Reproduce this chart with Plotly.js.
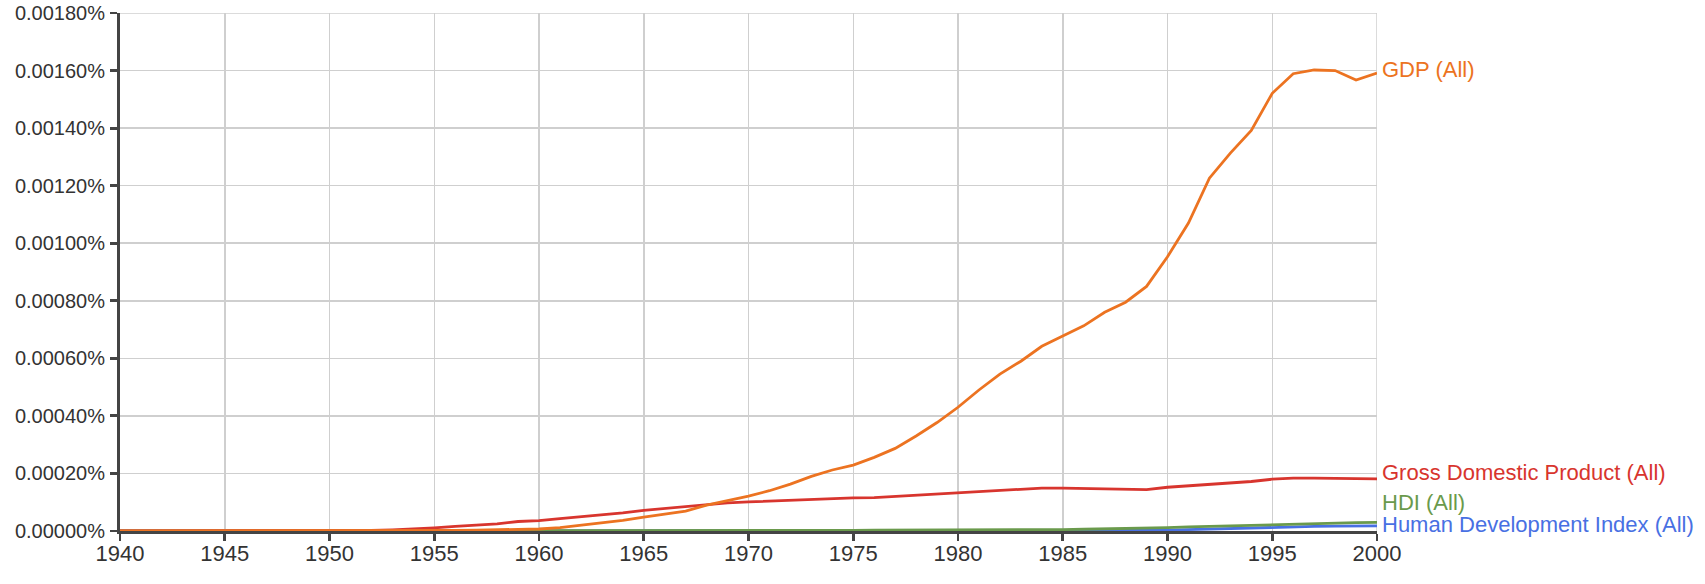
<!DOCTYPE html>
<html>
<head>
<meta charset="utf-8">
<script src="https://cdn.plot.ly/plotly-3.0.1.min.js"></script>
<style>
  html, body { margin: 0; padding: 0; background: #fff; }
  #chart { width: 1705px; height: 584px; }
</style>
</head>
<body>
<div id="chart"></div>
<script>
// ---- data ----
const years = [];
for (let y = 1940; y <= 2000; y++) years.push(y);

const seriesNames = ["GDP (All)", "Gross Domestic Product (All)", "HDI (All)", "Human Development Index (All)"];

// GDP (All), percent
const gdp = [
  0, 0, 0, 0, 0, 0, 0, 0, 0, 0,                         // 1940-1949
  0, 0, 0, 0.000001, 0.000001, 0.000002, 0.000002, 0.000003, 0.000004, 0.000005, // 1950-1959
  0.000007, 0.000012, 0.00002, 0.000028, 0.000037, 0.000048, 0.000058, 0.000069, 0.00009, 0.000105, // 1960-1969
  0.000121, 0.00014, 0.000163, 0.00019, 0.000212, 0.000229, 0.000256, 0.000287, 0.00033, 0.000377, // 1970-1979
  0.00043, 0.00049, 0.000545, 0.00059, 0.000642, 0.000678, 0.000713, 0.00076, 0.000795, 0.00085, // 1980-1989
  0.000953, 0.00107, 0.001226, 0.001313, 0.001392, 0.001521, 0.001589, 0.001602, 0.0016, 0.001567, // 1990-1999
  0.001591 // 2000
];

// Gross Domestic Product (All), percent
const grossDomesticProduct = [
  0, 0, 0, 0, 0, 0, 0, 0, 0, 0,
  0, 0.000001, 0.000002, 0.000004, 0.000007, 0.000011, 0.000016, 0.00002, 0.000025, 0.000033,
  0.000036, 0.000043, 0.000049, 0.000055, 0.000063, 0.000072, 0.000078, 0.000084, 0.000092, 0.000098,
  0.000101, 0.000104, 0.000106, 0.000109, 0.000113, 0.000115, 0.000116, 0.00012, 0.000126, 0.00013,
  0.000133, 0.000137, 0.000142, 0.000145, 0.000149, 0.000149, 0.000148, 0.000148, 0.000145, 0.000144,
  0.000152, 0.000157, 0.000163, 0.000166, 0.000172, 0.00018, 0.000184, 0.000184, 0.000182, 0.000182,
  0.000181
];

// HDI (All), percent
const hdi = [
  0, 0, 0, 0, 0, 0, 0, 0, 0, 0,
  0, 0, 0, 0, 0.000001, 0.000001, 0.000002, 0.000002, 0.000002, 0.000002,
  0.000002, 0.000002, 0.000002, 0.000002, 0.000002, 0.000002, 0.000002, 0.000002, 0.000002, 0.000002,
  0.000002, 0.000002, 0.000002, 0.000002, 0.000002, 0.000002, 0.000003, 0.000003, 0.000003, 0.000003,
  0.000003, 0.000003, 0.000003, 0.000003, 0.000004, 0.000005, 0.000006, 0.000007, 0.000008, 0.00001,
  0.000012, 0.000014, 0.000016, 0.000018, 0.00002, 0.000023, 0.000025, 0.000027, 0.000028, 0.000029,
  0.00003
];

// Human Development Index (All), percent
const humanDevelopmentIndex = [
  0, 0, 0, 0, 0, 0, 0, 0, 0, 0,
  0, 0, 0, 0, 0, 0, 0, 0, 0, 0,
  0, 0, 0, 0, 0, 0, 0, 0, 0, 0,
  0, 0, 0, 0, 0, 0, 0, 0, 0, 0,
  0, 0, 0, 0, 0, 0, 0.000001, 0.000001, 0.000002, 0.000002,
  0.000003, 0.000005, 0.000007, 0.000009, 0.000012, 0.000014, 0.000015, 0.000016, 0.000017, 0.000017,
  0.000018
];

const yTickVals = [0, 0.0002, 0.0004, 0.0006, 0.0008, 0.0010, 0.0012, 0.0014, 0.0016, 0.0018];
const yTickText = ["0.00000%", "0.00020%", "0.00040%", "0.00060%", "0.00080%", "0.00100%", "0.00120%", "0.00140%", "0.00160%", "0.00180%"];
const xTickVals = [1940, 1945, 1950, 1955, 1960, 1965, 1970, 1975, 1980, 1985, 1990, 1995, 2000];
const xTickText = ["1940", "1945", "1950", "1955", "1960", "1965", "1970", "1975", "1980", "1985", "1990", "1995", "2000"];

// ---- styles ----
const colors = ["#ec7321", "#d8352e", "#6a9a4c", "#4870e3"];
const labelShift = [4, 6, 20, 1];
const drawOrder = [3, 2, 1, 0]; // bottom to top

const allSeries = [gdp, grossDomesticProduct, hdi, humanDevelopmentIndex];
const FONT = "'Liberation Sans', Arial, Helvetica, sans-serif";
const GRID = "#cfcfcf";

const traces = drawOrder.map(i => ({
  type: "scatter",
  mode: "lines",
  x: years,
  y: allSeries[i],
  name: seriesNames[i],
  line: { color: colors[i], width: 2.8, shape: "linear" },
  cliponaxis: false,
  hoverinfo: "skip"
}));

const annotations = seriesNames.map((name, i) => ({
  x: years[years.length - 1],
  y: allSeries[i][allSeries[i].length - 1],
  xref: "x", yref: "y",
  text: name,
  showarrow: false,
  xanchor: "left",
  yanchor: "middle",
  xshift: 3,
  yshift: labelShift[i],
  font: { family: FONT, size: 22, color: colors[i] }
}));

const layout = {
  width: 1705,
  height: 584,
  margin: { l: 120, r: 328, t: 13, b: 53, pad: 0 },
  paper_bgcolor: "#ffffff",
  plot_bgcolor: "#ffffff",
  showlegend: false,
  font: { family: FONT, color: "#333333" },
  xaxis: {
    range: [1940, 2000],
    tickvals: xTickVals,
    ticktext: xTickText,
    showgrid: true,
    gridcolor: GRID,
    gridwidth: 1.5,
    zeroline: false,
    showline: true,
    linecolor: "#444444",
    linewidth: 3,
    ticks: "outside",
    ticklen: 7,
    tickwidth: 2.8,
    tickcolor: "#444444",
    ticklabelstandoff: -6,
    tickfont: { family: FONT, size: 22, color: "#333333" },
    layer: "below traces",
    fixedrange: true
  },
  yaxis: {
    range: [0, 0.0018],
    tickvals: yTickVals,
    ticktext: yTickText,
    showgrid: true,
    gridcolor: GRID,
    gridwidth: 1.5,
    zeroline: false,
    showline: true,
    linecolor: "#444444",
    linewidth: 3,
    ticks: "outside",
    ticklen: 7,
    tickwidth: 2.8,
    tickcolor: "#444444",
    ticklabelstandoff: 1,
    tickfont: { family: FONT, size: 20, color: "#333333" },
    layer: "below traces",
    fixedrange: true
  },
  shapes: [
    { type: "line", xref: "x", yref: "y", x0: 2000, x1: 2000, y0: 0, y1: 0.0018,
      line: { color: GRID, width: 1.5 }, layer: "below" },
    { type: "line", xref: "x", yref: "y", x0: 1940, x1: 2000, y0: 0.0018, y1: 0.0018,
      line: { color: GRID, width: 1.5 }, layer: "below" }
  ],
  annotations: annotations
};

Plotly.newPlot("chart", traces, layout, { staticPlot: true, displayModeBar: false });
</script>
</body>
</html>
